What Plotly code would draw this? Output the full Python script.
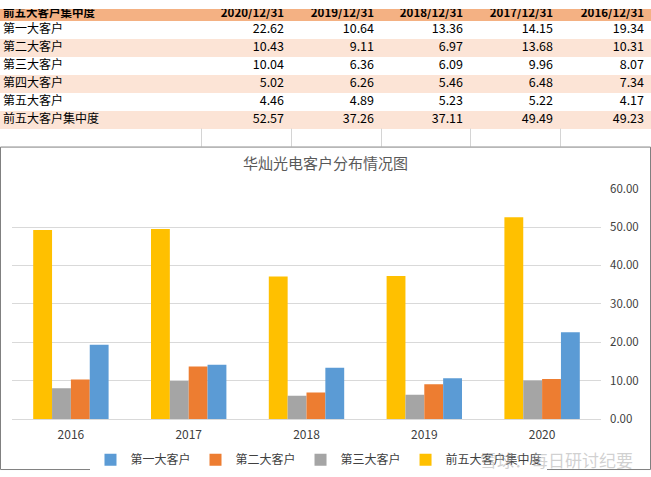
import plotly.graph_objects as go

# ---- data ----
years = ["2016", "2017", "2018", "2019", "2020"]
date_headers = ["2020/12/31", "2019/12/31", "2018/12/31", "2017/12/31", "2016/12/31"]
header_title = "前五大客户集中度"
row_labels = ["第一大客户", "第二大客户", "第三大客户", "第四大客户", "第五大客户", "前五大客户集中度"]
# table values per date column (2020 -> 2016)
col_2020 = [22.62, 10.43, 10.04, 5.02, 4.46, 52.57]
col_2019 = [10.64, 9.11, 6.36, 6.26, 4.89, 37.26]
col_2018 = [13.36, 6.97, 6.09, 5.46, 5.23, 37.11]
col_2017 = [14.15, 13.68, 9.96, 6.48, 5.22, 49.49]
col_2016 = [19.34, 10.31, 8.07, 7.34, 4.17, 49.23]

# chart series (2016 -> 2020)
first = [19.34, 14.15, 13.36, 10.64, 22.62]
second = [10.31, 13.68, 6.97, 9.11, 10.43]
third = [8.07, 9.96, 6.09, 6.36, 10.04]
top5 = [49.23, 49.49, 37.11, 37.26, 52.57]

W, H = 651, 477
FONT = "Noto Sans CJK SC"

# the photographed page shows the figure slightly squeezed vertically;
# map wanted on-screen y (px) -> layout y (px)
def ly(v):
    return max(0.0, min(float(H), (v - 8.5) / 0.966))

def py(v):
    return (H - ly(v)) / H

def pxx(px):
    return px / W

fig = go.Figure()

# ---- table drawn on its own pixel-unit axes (x2 / y2) ----
col_edges = [0, 201, 291, 381, 470, 560, 651]
row_edges_screen = [2, 20, 38, 56, 74, 92, 110, 128]
row_edges = [ly(v) for v in row_edges_screen]
row_kind = [[2], [0], [1], [0], [1], [0], [1]]  # header, white, tint ...
fig.add_trace(go.Heatmap(
    x=[col_edges[0], col_edges[-1]], y=row_edges, z=row_kind,
    zmin=0, zmax=2, showscale=False, hoverinfo="skip",
    colorscale=[[0, "#FFFFFF"], [0.5, "#FCE4D6"], [1, "#F4B183"]],
    xaxis="x2", yaxis="y2",
))
header_y = ly(13.5)
row_centers = [ly((row_edges_screen[i] + row_edges_screen[i + 1]) / 2)
               for i in range(1, len(row_edges_screen) - 1)]
# header texts
fig.add_trace(go.Scatter(
    x=[col_edges[0] + 3], y=[header_y], text=["<b>%s</b>" % header_title],
    mode="text", textposition="middle right", hoverinfo="skip", showlegend=False,
    textfont=dict(family=FONT, size=11.5, color="#000000"), xaxis="x2", yaxis="y2",
))
fig.add_trace(go.Scatter(
    x=[e - 7 for e in col_edges[2:]], y=[header_y] * len(date_headers),
    text=["<b>%s</b>" % d for d in date_headers],
    mode="text", textposition="middle left", hoverinfo="skip", showlegend=False,
    textfont=dict(family=FONT, size=11.5, color="#000000"), xaxis="x2", yaxis="y2",
))
# row labels
fig.add_trace(go.Scatter(
    x=[col_edges[0] + 3] * len(row_labels), y=row_centers, text=row_labels,
    mode="text", textposition="middle right", hoverinfo="skip", showlegend=False,
    textfont=dict(family=FONT, size=12, color="#000000"), xaxis="x2", yaxis="y2",
))
# value columns
for edge, col in zip(col_edges[2:], [col_2020, col_2019, col_2018, col_2017, col_2016]):
    fig.add_trace(go.Scatter(
        x=[edge - 7] * len(col), y=row_centers, text=["%.2f" % v for v in col],
        mode="text", textposition="middle left", hoverinfo="skip", showlegend=False,
        textfont=dict(family=FONT, size=12.5, color="#000000"), xaxis="x2", yaxis="y2",
    ))

# ---- bars ----
series = [
    ("前五大客户集中度", top5, "#FFC000"),
    ("第三大客户", third, "#A5A5A5"),
    ("第二大客户", second, "#ED7D31"),
    ("第一大客户", first, "#5B9BD5"),
]
for name, vals, color in series:
    fig.add_trace(go.Bar(x=years, y=vals, name=name, marker_color=color,
                         marker_line_width=0))

shapes = []
# empty-row gridlines of the sheet
for xb in col_edges[1:-1]:
    shapes.append(dict(type="line", xref="paper", yref="paper",
                       x0=pxx(xb + 0.5), x1=pxx(xb + 0.5), y0=py(146), y1=py(128),
                       line=dict(color="#D4D4D4", width=1)))
# chart border
shapes.append(dict(type="rect", xref="paper", yref="paper",
                   x0=pxx(0.5), x1=pxx(650.5), y0=0.5 / H, y1=py(146.5),
                   line=dict(color="#808080", width=1)))

fig.update_layout(
    width=W, height=H,
    margin=dict(l=0, r=0, t=0, b=0),
    paper_bgcolor="white", plot_bgcolor="rgba(0,0,0,0)",
    font=dict(family=FONT, color="#404040"),
    barmode="group", bargap=0.36, bargroupgap=0,
    title=dict(text="华灿光电客户分布情况图", x=0.5, xanchor="center",
               y=py(163), yanchor="middle", yref="paper",
               font=dict(family=FONT, size=15, color="#595959")),
    xaxis=dict(domain=[pxx(12), pxx(601)], type="category",
               showgrid=False, showline=True, linecolor="#D9D9D9",
               ticks="", ticklabelstandoff=4, tickfont=dict(size=12, color="#404040")),
    yaxis=dict(domain=[py(418.5), py(188)], range=[0, 60], dtick=10,
               side="right", tickformat=".2f", showgrid=True,
               gridcolor="#D9D9D9", zeroline=False, showline=False,
               ticklabelstandoff=8, tickfont=dict(size=11.5, color="#404040")),
    xaxis2=dict(domain=[0, 1], range=[0, W], visible=False, anchor="y2",
                fixedrange=True),
    yaxis2=dict(domain=[0, 1], range=[H, 0], visible=False, anchor="x2",
                fixedrange=True),
    legend=dict(orientation="h", x=0.49, xanchor="center", y=py(459),
                yanchor="middle", traceorder="reversed",
                font=dict(size=12, color="#404040"), itemwidth=30),
    shapes=shapes,
    annotations=[dict(text="雪球：每日研讨纪要", xref="paper", yref="paper",
                      x=pxx(635), y=py(459), xanchor="right", yanchor="middle",
                      showarrow=False,
                      font=dict(family=FONT, size=17, color="rgba(170,170,170,0.55)"))],
)

css_fix = ("document.documentElement.style.margin='0';"
           "document.body.style.margin='0';")
fig.write_html("out.html", config={"displayModeBar": False}, post_script=css_fix)
